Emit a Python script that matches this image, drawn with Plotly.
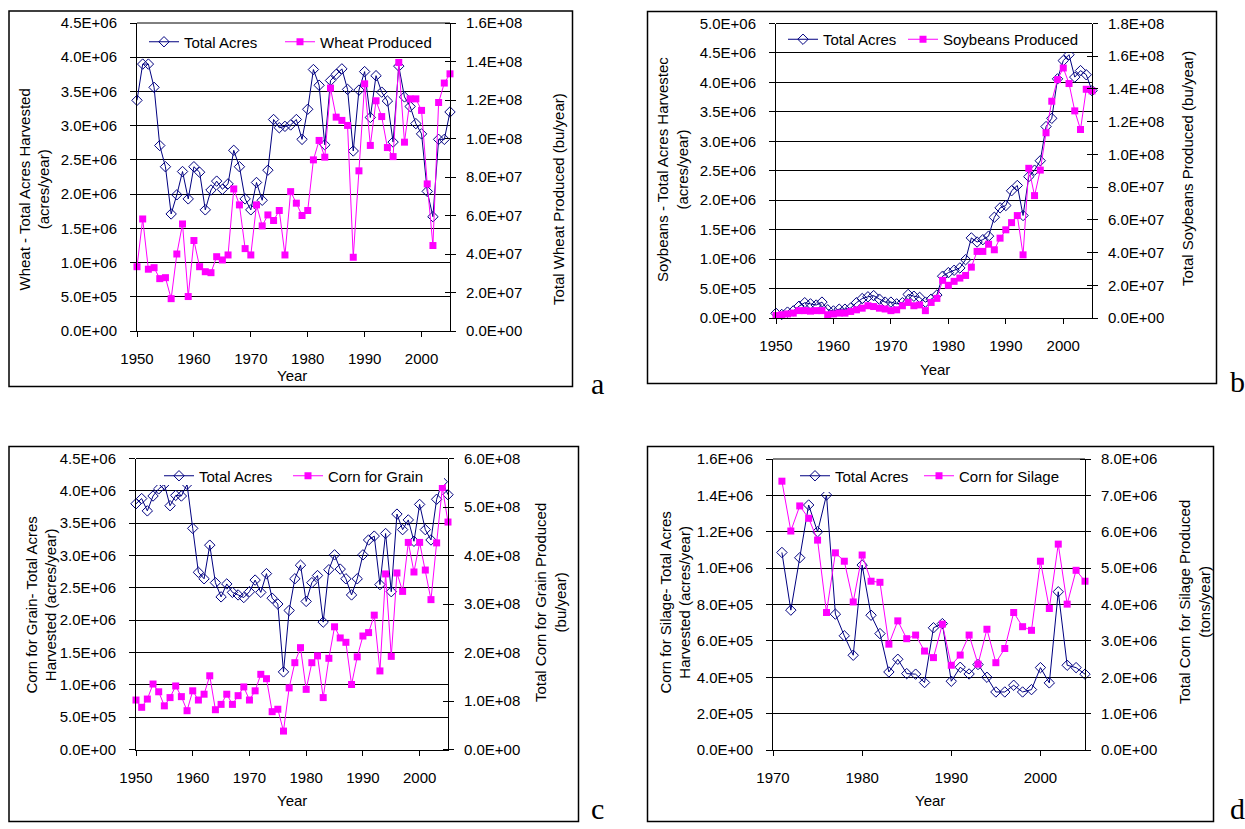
import plotly.graph_objects as go

W, H = 1245, 829
FONT = "Liberation Sans, Arial, sans-serif"
SERIF = "Liberation Serif, Times New Roman, serif"
NAVY = "#000080"
MAG = "#FF00FF"
FS = 15

# ---------------- data ----------------
years = list(range(1950, 2006))
years_silage = list(range(1971, 2006))

wheat_acres = [3.37, 3.90, 3.90, 3.56, 2.71, 2.40, 1.71, 1.99, 2.33, 1.93,
               2.40, 2.32, 1.77, 2.06, 2.19, 2.07, 2.15, 2.64, 2.40, 1.93,
               1.77, 2.17, 1.91, 2.35, 3.09, 2.97, 2.99, 3.01, 3.09, 2.80,
               3.24, 3.82, 3.59, 2.72, 3.66, 3.75, 3.83, 3.53, 2.63, 3.52,
               3.79, 3.12, 3.73, 3.49, 3.36, 2.76, 3.87, 3.42, 3.28, 3.03,
               2.88, 2.04, 1.67, 2.80, 2.80, 3.20]  # x1e6 acres
wheat_prod = [3.34, 5.82, 3.21, 3.29, 2.72, 2.77, 1.68, 4.00, 5.56, 1.79,
              4.70, 3.34, 3.08, 3.03, 3.86, 3.69, 3.95, 7.38, 6.55, 4.28,
              3.95, 6.55, 5.46, 6.03, 5.74, 6.26, 3.95, 7.24, 6.64, 6.00,
              6.26, 8.89, 9.90, 9.03, 12.62, 11.11, 10.94, 10.68, 3.83, 8.32,
              12.84, 9.64, 11.96, 11.14, 9.53, 9.06, 13.95, 9.81, 12.06, 12.06,
              11.46, 7.64, 4.44, 11.87, 12.88, 13.36]  # x1e7 bu

soy_acres = [0.8, 0.6, 1.0, 1.2, 2.0, 2.6, 2.4, 2.2, 2.7, 1.4,
             1.2, 1.5, 1.5, 1.7, 2.6, 3.3, 3.6, 3.8, 3.2, 2.7,
             2.7, 2.4, 2.6, 4.0, 3.7, 3.5, 2.7, 3.2, 3.9, 7.1,
             7.7, 8.1, 8.5, 9.9, 13.6, 12.9, 13.3, 13.9, 17.1, 18.7,
             19.1, 21.6, 22.5, 17.4, 24.0, 25.1, 26.7, 32.5, 33.9, 40.6,
             43.7, 44.7, 40.9, 42.0, 41.3, 38.6]  # x1e5 acres
soy_prod = [1.5, 2.0, 2.5, 3.0, 4.5, 4.5, 4.2, 4.5, 4.5, 2.0,
            2.5, 3.0, 3.0, 4.0, 5.0, 6.0, 7.5, 7.0, 6.0, 5.5,
            4.5, 5.0, 7.5, 9.5, 7.5, 8.0, 4.5, 9.5, 12.0, 23.0,
            20.0, 22.4, 24.4, 26.0, 31.1, 40.7, 40.7, 45.1, 41.7, 48.8,
            53.9, 58.3, 62.6, 38.6, 91.5, 74.8, 90.4, 113.2, 132.5, 145.7,
            152.8, 143.3, 126.6, 115.2, 139.8, 138.8]  # x1e6 bu

corn_acres = [3.80, 3.88, 3.69, 3.92, 4.03, 4.10, 3.77, 3.93, 3.92, 4.10,
              3.42, 2.74, 2.64, 3.16, 2.58, 2.36, 2.56, 2.43, 2.39, 2.35,
              2.44, 2.62, 2.43, 2.72, 2.34, 2.25, 1.20, 2.15, 2.64, 2.85,
              2.29, 2.58, 2.69, 1.97, 2.78, 3.01, 2.79, 2.64, 2.39, 2.64,
              3.01, 3.24, 3.30, 2.55, 3.34, 2.44, 3.64, 3.40, 3.55, 3.22,
              3.79, 3.40, 3.24, 3.87, 4.14, 3.94]  # x1e6 acres
corn_prod = [1.02, 0.87, 1.04, 1.35, 1.19, 0.90, 1.07, 1.31, 1.09, 0.80,
             1.21, 1.02, 1.14, 1.52, 0.82, 0.93, 1.14, 0.93, 1.11, 1.29,
             1.02, 1.21, 1.55, 1.46, 0.78, 0.83, 0.38, 1.27, 1.79, 2.10,
             1.24, 1.79, 1.93, 1.07, 1.88, 2.53, 2.30, 2.21, 1.34, 1.91,
             2.34, 2.41, 2.77, 1.62, 3.62, 1.92, 3.64, 3.26, 4.27, 3.66,
             4.27, 3.70, 3.09, 4.26, 5.40, 4.69]  # x1e8 bu

silage_acres = [10.86, 7.69, 10.57, 13.47, 12.00, 14.02, 7.47, 6.28, 5.21,
                10.17, 7.41, 6.40, 4.29, 4.99, 4.20, 4.17, 3.71, 6.72, 6.95,
                3.78, 4.55, 4.18, 4.70, 4.00, 3.19, 3.19, 3.56, 3.19, 3.32,
                4.53, 3.69, 8.70, 4.66, 4.53, 4.17]  # x1e5 acres
silage_prod = [7.39, 6.02, 6.71, 6.37, 5.77, 3.78, 5.42, 5.19, 4.07,
               5.36, 4.64, 4.61, 2.91, 3.55, 3.06, 3.16, 2.72, 2.54, 3.46,
               2.33, 2.61, 3.16, 2.36, 3.32, 2.40, 2.79, 3.78, 3.39, 3.29,
               5.19, 3.89, 5.66, 4.01, 4.94, 4.64]  # x1e6 tons

xticks_1950 = [1950, 1960, 1970, 1980, 1990, 2000]
xticks_1970 = [1970, 1980, 1990, 2000]
ticks_acres_45 = [0, 5e5, 1e6, 1.5e6, 2e6, 2.5e6, 3e6, 3.5e6, 4e6, 4.5e6]
ticks_acres_50 = ticks_acres_45 + [5e6]
ticks_acres_16 = [0, 2e5, 4e5, 6e5, 8e5, 1e6, 1.2e6, 1.4e6, 1.6e6]
ticks_wheat_prod = [0, 2e7, 4e7, 6e7, 8e7, 1e8, 1.2e8, 1.4e8, 1.6e8]
ticks_soy_prod = [0, 2e7, 4e7, 6e7, 8e7, 1e8, 1.2e8, 1.4e8, 1.6e8, 1.8e8]
ticks_corn_prod = [0, 1e8, 2e8, 3e8, 4e8, 5e8, 6e8]
ticks_silage_prod = [0, 1e6, 2e6, 3e6, 4e6, 5e6, 6e6, 7e6, 8e6]


def sci(v):
    return f"{v:.1E}"


def px(x):
    return x / W


def py(y):
    return 1 - y / H


panels = [
    dict(x=years, acres=[v * 1e6 for v in wheat_acres], prod=[v * 1e7 for v in wheat_prod],
         prodname="Wheat Produced", xr=[1950, 2005], xt=xticks_1950,
         yl=ticks_acres_45, yr=ticks_wheat_prod,
         box=(137, 450, 23, 331),
         leg1=144, leg2=280, legy=42,
         legbox=(141, 447, 25, 56),
         ltitle="Wheat - Total Acres Harvested<br>(acres/year)", ltpos=(34.5, 190),
         rtitle="Total Wheat Produced (bu/year)", rtpos=(558, 199),
         xtpos=(292, 376), frame=(9, 11, 572.5, 386.5), letter="a", letpos=(597, 383)),
    dict(x=years, acres=[v * 1e5 for v in soy_acres], prod=[v * 1e6 for v in soy_prod],
         prodname="Soybeans Produced", xr=[1950, 2005], xt=xticks_1950,
         yl=ticks_acres_50, yr=ticks_soy_prod,
         box=(776, 1092, 23.5, 318),
         leg1=783, leg2=903, legy=39.5,
         legbox=(780, 1089, 25, 52),
         ltitle="Soybeans - Total Acres Harvestec<br>(acres/year)", ltpos=(672, 170),
         rtitle="Total Soybeans Produced (bu/year)", rtpos=(1187, 169),
         xtpos=(935, 369), frame=(647.5, 11.5, 1216.5, 383.5), letter="b", letpos=(1237, 381)),
    dict(x=years, acres=[v * 1e6 for v in corn_acres], prod=[v * 1e8 for v in corn_prod],
         prodname="Corn for Grain", xr=[1950, 2005], xt=xticks_1950,
         yl=ticks_acres_45, yr=ticks_corn_prod,
         box=(136, 448, 458.5, 749.5),
         leg1=159, leg2=288, legy=476,
         legbox=(156, 444, 460, 485),
         ltitle="Corn for Grain- Total Acres<br>Harvested (acres/year)", ltpos=(40.5, 605),
         rtitle="Total Corn for Grain Produced<br>(bu/year)", rtpos=(550, 603),
         xtpos=(292, 800), frame=(9, 446.5, 578.5, 821.5), letter="c", letpos=(597, 808)),
    dict(x=years_silage, acres=[v * 1e5 for v in silage_acres], prod=[v * 1e6 for v in silage_prod],
         prodname="Corn for Silage", xr=[1970, 2005], xt=xticks_1970,
         yl=ticks_acres_16, yr=ticks_silage_prod,
         box=(773, 1085, 459, 750),
         leg1=795, leg2=919, legy=476,
         legbox=(792, 1082, 461, 492),
         ltitle="Corn for Silage- Total Acres<br>Harvested (acres/year)", ltpos=(674.5, 603),
         rtitle="Total Corn for Silage Produced<br>(tons/year)", rtpos=(1194, 602),
         xtpos=(930, 800), frame=(647.5, 446.5, 1213.5, 821.5), letter="d", letpos=(1237, 808)),
]

fig = go.Figure()
layout = dict(width=W, height=H,
              margin=dict(l=0, r=0, t=0, b=0, pad=0, autoexpand=False),
              paper_bgcolor="white", plot_bgcolor="white",
              font=dict(family=FONT, size=FS, color="black"),
              showlegend=True)
shapes = []
annotations = []

for i, p in enumerate(panels, start=1):
    xa = "x" if i == 1 else f"x{i}"
    yl_i, yr_i = 2 * i - 1, 2 * i
    yl = "y" if yl_i == 1 else f"y{yl_i}"
    yr = f"y{yr_i}"
    legA = "legend" if i == 1 else f"legend{2 * i - 1}"
    legB = f"legend{2 * i}"

    fig.add_trace(go.Scatter(
        x=p["x"], y=p["acres"], mode="lines+markers", name="Total Acres",
        line=dict(color=NAVY, width=1), cliponaxis=False,
        marker=dict(symbol="diamond-open", size=8, color=NAVY, line=dict(width=1, color=NAVY)),
        xaxis=xa, yaxis=yl, legend=legA))
    fig.add_trace(go.Scatter(
        x=p["x"], y=p["prod"], mode="lines+markers", name=p["prodname"],
        line=dict(color=MAG, width=1), cliponaxis=False,
        marker=dict(symbol="square", size=7, color=MAG, line=dict(width=0)),
        xaxis=xa, yaxis=yr, legend=legB))

    x0, x1, y0, y1 = p["box"]
    xkey = "xaxis" if i == 1 else f"xaxis{i}"
    ylkey = "yaxis" if yl_i == 1 else f"yaxis{yl_i}"
    yrkey = f"yaxis{yr_i}"
    layout[xkey] = dict(domain=[px(x0), px(x1)], anchor=yl, range=p["xr"],
                        tickvals=p["xt"], ticks="outside", ticklen=5, tickcolor="black",
                        showline=True, linecolor="black", linewidth=1, showgrid=False,
                        zeroline=False, tickfont=dict(size=FS), ticklabelstandoff=9,
                        automargin=False)
    layout[ylkey] = dict(domain=[py(y1), py(y0)], anchor=xa, range=[0, p["yl"][-1]],
                         tickvals=p["yl"], ticktext=[sci(v) for v in p["yl"]],
                         ticks="outside", ticklen=6, tickcolor="black",
                         showline=True, linecolor="black", linewidth=1,
                         showgrid=True, gridcolor="black", gridwidth=1,
                         zeroline=False, tickfont=dict(size=FS), ticklabelstandoff=10,
                         automargin=False)
    layout[yrkey] = dict(overlaying=yl, side="right", anchor=xa, range=[0, p["yr"][-1]],
                         tickvals=p["yr"], ticktext=[sci(v) for v in p["yr"]],
                         ticks="outside", ticklen=5, tickcolor="black",
                         minor=dict(tickvals=p["yr"], ticks="inside", ticklen=5,
                                    tickcolor="black", showgrid=False),
                         showline=True, linecolor="black", linewidth=1,
                         showgrid=False, zeroline=False, tickfont=dict(size=FS),
                         ticklabelstandoff=7, automargin=False)
    for lg, lx in ((legA, p["leg1"]), (legB, p["leg2"])):
        layout[lg] = dict(orientation="h", x=px(lx), xanchor="left",
                          y=py(p["legy"]), yanchor="middle", bgcolor="rgba(0,0,0,0)",
                          borderwidth=0, font=dict(size=FS, family=FONT))

    fx0, fy0, fx1, fy1 = p["frame"]
    shapes.append(dict(type="rect", xref="paper", yref="paper",
                       x0=px(fx0), x1=px(fx1), y0=py(fy1), y1=py(fy0),
                       line=dict(color="black", width=1.5), fillcolor="rgba(0,0,0,0)",
                       layer="below"))
    shapes.append(dict(type="line", xref="paper", yref="paper",
                       x0=px(x0), x1=px(x1), y0=py(y0), y1=py(y0),
                       line=dict(color="black", width=1)))
    lb0, lb1, lb2, lb3 = p["legbox"]
    shapes.append(dict(type="rect", xref="paper", yref="paper", layer="above",
                       x0=px(lb0), x1=px(lb1), y0=py(lb3), y1=py(lb2),
                       line=dict(width=0), fillcolor="white"))

    annotations.append(dict(text=p["ltitle"], x=px(p["ltpos"][0]), y=py(p["ltpos"][1]),
                            xref="paper", yref="paper", showarrow=False, textangle=-90,
                            font=dict(size=FS), xanchor="center", yanchor="middle"))
    annotations.append(dict(text=p["rtitle"], x=px(p["rtpos"][0]), y=py(p["rtpos"][1]),
                            xref="paper", yref="paper", showarrow=False, textangle=-90,
                            font=dict(size=FS), xanchor="center", yanchor="middle"))
    annotations.append(dict(text="Year", x=px(p["xtpos"][0]), y=py(p["xtpos"][1]),
                            xref="paper", yref="paper", showarrow=False,
                            font=dict(size=FS), xanchor="center", yanchor="middle"))
    annotations.append(dict(text=p["letter"], x=px(p["letpos"][0]), y=py(p["letpos"][1]),
                            xref="paper", yref="paper", showarrow=False,
                            font=dict(size=30, family=SERIF), xanchor="center", yanchor="middle"))

layout["shapes"] = shapes
layout["annotations"] = annotations
fig.update_layout(**layout)
fig.write_html("out.html", config={"displayModeBar": False},
               post_script="document.body.style.margin='0';document.body.style.overflow='hidden';")
